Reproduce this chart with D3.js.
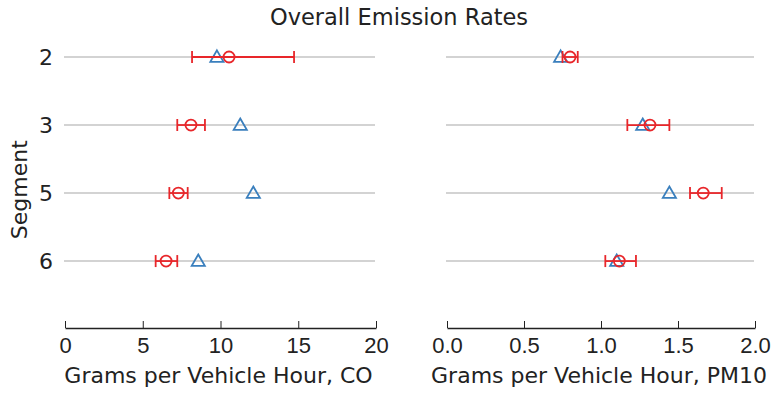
<!DOCTYPE html>
<html>
<head>
<meta charset="utf-8">
<script src="https://cdn.jsdelivr.net/npm/d3@7"></script>
<style>
  html, body { margin: 0; padding: 0; background: #fff; }
  svg { display: block; font-family: "DejaVu Sans", sans-serif; }
</style>
</head>
<body>
<svg id="chart" width="775" height="393"></svg>
<script>
// Road segments (top to bottom)
const segments = ["2", "3", "5", "6"];

// CO, grams per vehicle hour
const coModel = [9.77, 11.27, 12.11, 8.57];      // triangles
const coMeasured = [10.55, 8.1, 7.29, 6.5];      // circles
const coLow = [8.17, 7.22, 6.71, 5.83];
const coHigh = [14.73, 9.0, 7.89, 7.22];

// PM10, grams per vehicle hour
const pmModel = [0.738, 1.271, 1.444, 1.102];
const pmMeasured = [0.799, 1.318, 1.664, 1.119];
const pmLow = [0.75, 1.171, 1.578, 1.028];
const pmHigh = [0.849, 1.444, 1.784, 1.227];

const coTicks = [0, 5, 10, 15, 20];
const pmTicks = [0.0, 0.5, 1.0, 1.5, 2.0];

const RED = "#e8262a";
const BLUE = "#3a7fbd";
const INK = "#222";
const FS = 22;   // label font size

const svg = d3.select("#chart");

// Shared vertical scale: rows at 0..3, with room below the last row
const y = d3.scaleLinear().domain([-0.5, 3.94]).range([23, 325]);

function label(parent, x, yy, str, anchor, size, rot) {
  const g = parent.append("g")
    .attr("transform", `translate(${x},${yy})` + (rot ? ` rotate(${rot})` : ""));
  g.append("text")
    .attr("text-anchor", anchor)
    .attr("font-size", size)
    .attr("fill", INK)
    .text(str);
  return g;
}

label(svg, 399, 25, "Overall Emission Rates", "middle", 22.5);

function panel(x0, x1, domain, ticks, fmt, model, measured, lo, hi, title, withY) {
  const x = d3.scaleLinear().domain(domain).range([x0, x1]);
  const g = svg.append("g");

  // row guide lines
  g.selectAll("line.grid").data(segments).join("line")
    .attr("class", "grid")
    .attr("x1", x0 - 1).attr("x2", x1 - 1)
    .attr("y1", (d, i) => y(i)).attr("y2", (d, i) => y(i))
    .attr("stroke", "#c4c4c4").attr("stroke-width", 1.6);

  // bottom axis with inward ticks
  const axisY = y(3.94) + 3;
  const ax = g.append("g").attr("transform", `translate(0,${axisY})`)
    .call(d3.axisBottom(x).tickValues(ticks).tickFormat(() => "").tickSizeInner(-7).tickSizeOuter(0));
  ax.select(".domain").attr("stroke", INK).attr("stroke-width", 1.4);
  ax.selectAll(".tick line").attr("stroke", INK).attr("stroke-width", 1);
  ax.selectAll(".tick").each(function (d) {
    label(d3.select(this), 0, 25, fmt(d), "middle", FS);
  });

  label(g, (x0 + x1) / 2 - 2, axisY + 55, title, "middle", FS);

  if (withY) {
    segments.forEach((s, i) => {
      label(g, 53, y(i) + 8, s, "end", FS);
    });
    label(g, 27, y(1.95), "Segment", "middle", FS, -90);
  }

  // model estimates: hollow triangles
  const tri = d3.symbol().type(d3.symbolTriangle).size(75);
  g.selectAll("path.tri").data(model).join("path")
    .attr("class", "tri")
    .attr("d", tri)
    .attr("transform", (d, i) => `translate(${x(d)},${y(i) + 1})`)
    .attr("fill", "none").attr("stroke", BLUE).attr("stroke-width", 1.8);

  // measured values with error bars
  const eb = g.selectAll("g.eb").data(measured).join("g").attr("class", "eb");
  eb.append("line")
    .attr("x1", (d, i) => x(lo[i])).attr("x2", (d, i) => x(hi[i]))
    .attr("y1", (d, i) => y(i)).attr("y2", (d, i) => y(i))
    .attr("stroke", RED).attr("stroke-width", 1.8);
  eb.append("line")
    .attr("x1", (d, i) => x(lo[i])).attr("x2", (d, i) => x(lo[i]))
    .attr("y1", (d, i) => y(i) - 6).attr("y2", (d, i) => y(i) + 6)
    .attr("stroke", RED).attr("stroke-width", 1.8);
  eb.append("line")
    .attr("x1", (d, i) => x(hi[i])).attr("x2", (d, i) => x(hi[i]))
    .attr("y1", (d, i) => y(i) - 6).attr("y2", (d, i) => y(i) + 6)
    .attr("stroke", RED).attr("stroke-width", 1.8);
  eb.append("circle")
    .attr("cx", d => x(d)).attr("cy", (d, i) => y(i))
    .attr("r", 5.5)
    .attr("fill", "none").attr("stroke", RED).attr("stroke-width", 1.8);
}

panel(65, 376, [0, 20], coTicks, d3.format("d"), coModel, coMeasured, coLow, coHigh,
  "Grams per Vehicle Hour, CO", true);
panel(447, 755, [0, 2], pmTicks, d3.format(".1f"), pmModel, pmMeasured, pmLow, pmHigh,
  "Grams per Vehicle Hour, PM10", false);
</script>
</body>
</html>
